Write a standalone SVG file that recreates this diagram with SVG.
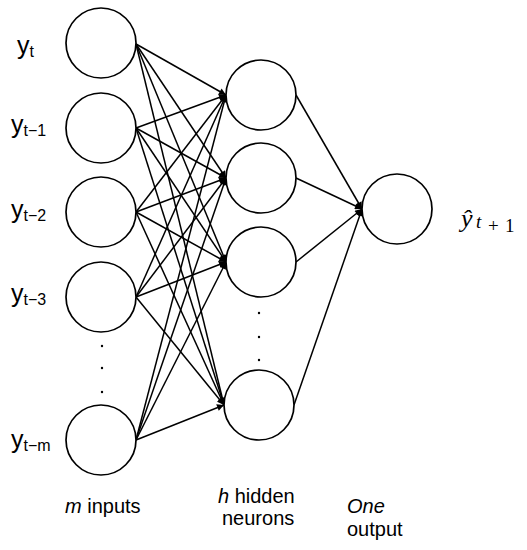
<svg xmlns="http://www.w3.org/2000/svg" width="527" height="550" viewBox="0 0 527 550">
<defs>
<marker id="arr" viewBox="0 0 10 10" refX="10" refY="5" markerWidth="9" markerHeight="7" markerUnits="userSpaceOnUse" orient="auto">
<path d="M0,0 L10,5 L0,10 Z" fill="#000"/>
</marker>
<style>
.node{fill:#fff;stroke:#000;stroke-width:1.7}
.edge{stroke:#000;stroke-width:1.5;fill:none;marker-end:url(#arr)}
.lbl{font-family:"Liberation Sans",Arial,sans-serif;fill:#000}
.big{font-size:25px}
.sub{font-size:16px}
.cap{font-size:20px}
.dot{fill:#000}
.math{font-family:"Liberation Serif","Times New Roman",serif;fill:#000}
</style>
</defs>
<rect width="527" height="550" fill="#fff"/>
<g id="connectors">
<line class="edge" x1="136" y1="44" x2="226" y2="95"/>
<line class="edge" x1="136" y1="44" x2="226" y2="178"/>
<line class="edge" x1="136" y1="44" x2="226" y2="262"/>
<line class="edge" x1="136" y1="44" x2="224" y2="405"/>
<line class="edge" x1="136" y1="128" x2="226" y2="95"/>
<line class="edge" x1="136" y1="128" x2="226" y2="178"/>
<line class="edge" x1="136" y1="128" x2="226" y2="262"/>
<line class="edge" x1="136" y1="128" x2="224" y2="405"/>
<line class="edge" x1="136" y1="212" x2="226" y2="95"/>
<line class="edge" x1="136" y1="212" x2="226" y2="178"/>
<line class="edge" x1="136" y1="212" x2="226" y2="262"/>
<line class="edge" x1="136" y1="212" x2="224" y2="405"/>
<line class="edge" x1="136" y1="297" x2="226" y2="95"/>
<line class="edge" x1="136" y1="297" x2="226" y2="178"/>
<line class="edge" x1="136" y1="297" x2="226" y2="262"/>
<line class="edge" x1="136" y1="297" x2="224" y2="405"/>
<line class="edge" x1="136" y1="440" x2="226" y2="95"/>
<line class="edge" x1="136" y1="440" x2="226" y2="178"/>
<line class="edge" x1="136" y1="440" x2="226" y2="262"/>
<line class="edge" x1="136" y1="440" x2="224" y2="405"/>
<line class="edge" x1="296" y1="95" x2="362" y2="209"/>
<line class="edge" x1="296" y1="178" x2="362" y2="209"/>
<line class="edge" x1="296" y1="262" x2="362" y2="209"/>
<line class="edge" x1="294" y1="405" x2="362" y2="209"/>
</g>
<g id="in1"><circle class="node" cx="101" cy="43" r="35"/><text class="lbl big" x="17" y="54">y<tspan class="sub" dy="3">t</tspan></text></g>
<g id="in2"><circle class="node" cx="101" cy="128" r="35"/><text class="lbl big" x="11" y="133">y<tspan class="sub" dy="3">t−1</tspan></text></g>
<g id="in3"><circle class="node" cx="101" cy="212" r="35"/><text class="lbl big" x="11" y="218">y<tspan class="sub" dy="3">t−2</tspan></text></g>
<g id="in4"><circle class="node" cx="101" cy="297" r="35"/><text class="lbl big" x="11" y="302">y<tspan class="sub" dy="3">t−3</tspan></text></g>
<g id="in-dots"><circle class="dot" cx="102" cy="346" r="1.2"/><circle class="dot" cx="102" cy="368" r="1.2"/><circle class="dot" cx="102" cy="392" r="1.2"/></g>
<g id="inm"><circle class="node" cx="101" cy="440" r="35"/><text class="lbl big" x="11" y="448">y<tspan class="sub" dy="3">t−m</tspan></text></g>
<g id="h1"><circle class="node" cx="261" cy="95" r="35"/></g>
<g id="h2"><circle class="node" cx="261" cy="178" r="35"/></g>
<g id="h3"><circle class="node" cx="261" cy="262" r="35"/></g>
<g id="h-dots"><circle class="dot" cx="259" cy="313" r="1.2"/><circle class="dot" cx="259" cy="337" r="1.2"/><circle class="dot" cx="259" cy="360" r="1.2"/></g>
<g id="hh"><circle class="node" cx="259" cy="405" r="35"/></g>
<g id="out"><circle class="node" cx="397" cy="209" r="35"/><text class="math" font-size="26"><tspan x="461" y="227" font-style="italic">ŷ</tspan><tspan x="476" y="228" font-size="19" font-style="italic">t</tspan><tspan x="488" y="232" font-size="19">+</tspan><tspan x="505" y="232" font-size="19">1</tspan></text></g>
<g id="labels">
<text class="lbl cap" x="65" y="513"><tspan font-style="italic">m</tspan> inputs</text>
<text class="lbl cap" x="218" y="503"><tspan font-style="italic">h</tspan> hidden</text>
<text class="lbl cap" x="222" y="525">neurons</text>
<text class="lbl cap" x="347" y="513" font-style="italic">One</text>
<text class="lbl cap" x="347" y="536">output</text>
</g>
</svg>
